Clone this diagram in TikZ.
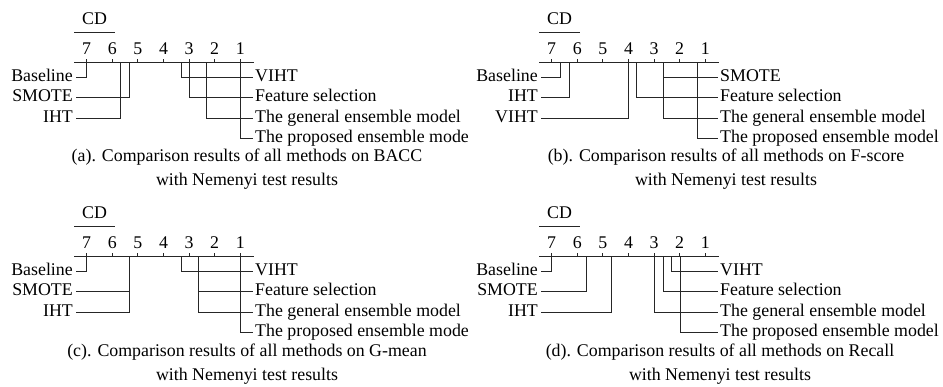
\documentclass[tikz,border=0pt]{standalone}
\usepackage{fontspec}
\setmainfont{Liberation Serif}
\begin{document}
\begin{tikzpicture}[x=1pt,y=-1pt,
  ln/.style={line width=0.9pt,black!85},
  lab/.style={font=\fontsize{17.85}{20}\selectfont,inner ysep=0pt,text height=11pt,text depth=2.6pt},
  captxt/.style={font=\fontsize{17.85}{20}\selectfont,inner sep=0pt}]
\useasboundingbox (0,0) rectangle (943,386);
\newcommand\axisbox[1]{%
  \coordinate (#1-axL) at (74,62.3);
  \coordinate (#1-axR) at (254,62.3);
  \draw[ln] (#1-axL) -- (#1-axR);
  \foreach \r in {1,...,7}{
    \coordinate (#1-tk\r) at ({86.7+(7-\r)*25.6},62.3);
    \draw[ln] (#1-tk\r) -- ++(0,-3);
    \node[lab,inner xsep=0pt] (#1-tl\r) at ({86.7+(7-\r)*25.6},50) {\r};
  }
  \node[lab,inner xsep=0pt] (#1-cd) at (94.5,20) {CD};
  \coordinate (#1-cdL) at (74,32);
  \coordinate (#1-cdR) at (115,32);
  \draw[ln] (#1-cdL) -- (#1-cdR);
}
\newcommand\leftm[4]{%
  \coordinate (#1-ax) at (#3,62.3);
  \node[lab,anchor=east,inner xsep=3pt] (#1) at (76,#4) {#2};
  \draw[ln] (#1-ax) |- (#1);
}
\newcommand\rightm[4]{%
  \coordinate (#1-ax) at (#3,62.3);
  \node[lab,anchor=west,inner xsep=2pt] (#1) at (253,#4) {#2};
  \draw[ln] (#1-ax) |- (#1);
}
% (a)
\begin{scope}
  \axisbox{a}
  \leftm{a-base}{Baseline}{86.7}{77.3}
  \leftm{a-smote}{SMOTE}{129.3}{97.7}
  \leftm{a-iht}{IHT}{120.9}{118.3}
  \rightm{a-viht}{VIHT}{181}{77.3}
  \rightm{a-fs}{Feature selection}{189.2}{97.7}
  \rightm{a-gen}{The general ensemble model}{206.7}{118.3}
  \rightm{a-prop}{The proposed ensemble mode}{240.5}{138.5}
\end{scope}
% (b)
\begin{scope}[shift={(465,0)}]
  \axisbox{b}
  \leftm{b-base}{Baseline}{95}{77.3}
  \leftm{b-iht}{IHT}{104}{97.7}
  \leftm{b-viht}{VIHT}{163.3}{118.3}
  \rightm{b-smote}{SMOTE}{198.3}{77.3}
  \rightm{b-fs}{Feature selection}{171.7}{97.7}
  \rightm{b-gen}{The general ensemble model}{198.3}{118.3}
  \rightm{b-prop}{The proposed ensemble model}{232.7}{138.5}
\end{scope}
% (c)
\begin{scope}[shift={(0,194)}]
  \axisbox{c}
  \leftm{c-base}{Baseline}{86.7}{77.3}
  \leftm{c-smote}{SMOTE}{129.3}{97.7}
  \leftm{c-iht}{IHT}{129.3}{118.3}
  \rightm{c-viht}{VIHT}{181}{77.3}
  \rightm{c-fs}{Feature selection}{198.3}{97.7}
  \rightm{c-gen}{The general ensemble model}{198.3}{118.3}
  \rightm{c-prop}{The proposed ensemble mode}{240.5}{138.5}
\end{scope}
% (d)
\begin{scope}[shift={(465,194)}]
  \axisbox{d}
  \leftm{d-base}{Baseline}{86.7}{77.3}
  \leftm{d-smote}{SMOTE}{121}{97.7}
  \leftm{d-iht}{IHT}{146.7}{118.3}
  \rightm{d-viht}{VIHT}{206.7}{77.3}
  \rightm{d-fs}{Feature selection}{198.3}{97.7}
  \rightm{d-gen}{The general ensemble model}{189}{118.3}
  \rightm{d-prop}{The proposed ensemble model}{215}{138.5}
\end{scope}
% captions
\node[captxt] (capa1) at (247,157) {(a). Comparison results of all methods on BACC};
\node[captxt] (capa2) at (247,181) {with Nemenyi test results};
\node[captxt] (capb1) at (726,157) {(b). Comparison results of all methods on F-score};
\node[captxt] (capb2) at (726,181) {with Nemenyi test results};
\node[captxt] (capc1) at (247,352) {(c). Comparison results of all methods on G-mean};
\node[captxt] (capc2) at (247,376) {with Nemenyi test results};
\node[captxt] (capd1) at (720,352) {(d). Comparison results of all methods on Recall};
\node[captxt] (capd2) at (720,376) {with Nemenyi test results};
\end{tikzpicture}
\end{document}
